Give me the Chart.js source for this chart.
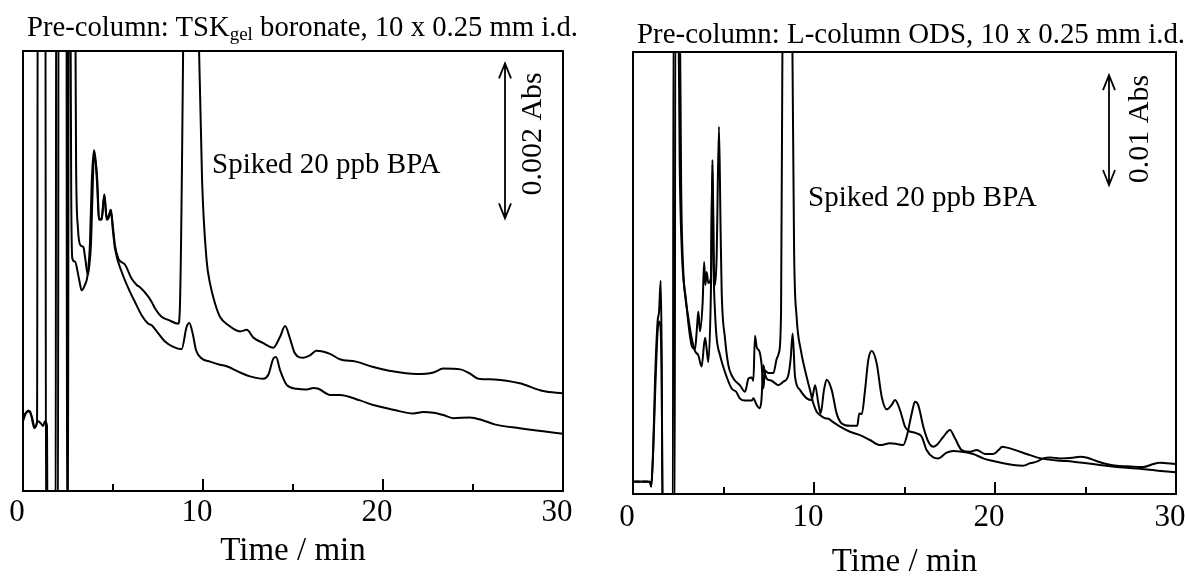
<!DOCTYPE html>
<html>
<head>
<meta charset="utf-8">
<script src="https://cdn.jsdelivr.net/npm/chart.js@4.4.0/dist/chart.umd.min.js"></script>
<style>
  html, body { margin: 0; padding: 0; background: #fff; }
  body { width: 1185px; height: 577px; overflow: hidden; position: relative; font-family: 'Liberation Serif', 'Times New Roman', serif; }
  canvas { position: absolute; top: 0; }
  .ttl { position: absolute; font-size: 28.7px; line-height: 28px; white-space: nowrap; color: #000; z-index: 2; }
  .ttl sub { font-size: 19px; vertical-align: -4px; line-height: 0; }
</style>
</head>
<body>
<canvas id="left" width="600" height="577" style="left:0"></canvas>
<canvas id="right" width="640" height="577" style="left:600px"></canvas>
<div class="ttl" style="left:27px; top:12px">Pre-column: TSK<sub>gel</sub> boronate, 10 x 0.25 mm i.d.</div>
<div class="ttl" style="left:637px; top:19px; font-size:28.9px">Pre-column: L-column ODS, 10 x 0.25 mm i.d.</div>
<script>
const xTicks = [0, 10, 20, 30];
const minorTicks = [5, 15, 25];

// TSKgel boronate pre-column, [time / min, absorbance / mAU]
const tskSpiked = [[0,0.9],[0.15,1.0],[0.3,1.04],[0.5,0.95],[0.65,0.82],[0.78,0.9],[0.83,8],[1.24,8],[1.28,-1],[1.94,-1],[1.98,8],[2.86,8],[2.95,4.2],[3.05,3.4],[3.2,3.17],[3.35,3.15],[3.46,3.0],[3.6,2.79],[3.67,2.88],[3.78,3.2],[3.87,3.9],[3.94,4.31],[4.04,4.25],[4.13,4.0],[4.22,3.52],[4.37,3.5],[4.52,3.82],[4.65,3.5],[4.8,3.55],[4.88,3.63],[5.0,3.4],[5.11,3.17],[5.3,3.0],[5.67,2.92],[6.04,2.74],[6.32,2.66],[6.5,2.63],[6.96,2.51],[7.15,2.44],[7.33,2.36],[7.7,2.25],[8.07,2.21],[8.63,2.16],[8.72,2.4],[9.3,14],[9.75,6],[9.95,4.0],[10.2,2.98],[10.39,2.68],[10.67,2.42],[10.94,2.25],[11.41,2.14],[12.06,2.06],[12.43,2.08],[12.8,1.98],[13.35,1.91],[13.9,1.85],[14.28,1.99],[14.56,2.13],[14.83,1.97],[15.1,1.78],[15.57,1.72],[15.94,1.75],[16.3,1.81],[17.06,1.77],[17.6,1.7],[18.5,1.67],[19.46,1.6],[20.4,1.55],[21.87,1.51],[22.8,1.53],[23.35,1.58],[24.3,1.57],[24.8,1.52],[25.3,1.45],[26.2,1.44],[27.6,1.39],[28.9,1.29],[30,1.26]];
const tskBlank = [[0,0.95],[0.2,1.02],[0.39,1.03],[0.63,0.81],[0.85,0.9],[1.0,0.87],[1.12,0.84],[1.22,0.9],[1.33,0.85],[1.37,-1],[1.81,-1],[1.85,8],[2.41,8],[2.45,-1],[2.5,-1],[2.54,8],[2.6,8],[2.68,3.8],[2.74,3.0],[2.89,2.96],[3.11,2.74],[3.26,2.59],[3.44,2.66],[3.59,2.79],[3.72,3.2],[3.82,4.0],[3.94,4.4],[4.02,4.3],[4.13,3.9],[4.22,3.5],[4.37,3.52],[4.52,3.83],[4.65,3.52],[4.8,3.58],[4.87,3.63],[5.0,3.35],[5.11,3.13],[5.48,2.83],[5.85,2.62],[6.22,2.44],[6.59,2.27],[6.96,2.16],[7.15,2.14],[7.43,2.06],[7.89,1.93],[8.35,1.86],[8.81,1.83],[9.09,2.12],[9.24,2.17],[9.43,2.03],[9.61,1.82],[9.93,1.71],[10.39,1.67],[10.94,1.63],[11.31,1.61],[12.06,1.53],[12.61,1.48],[13.35,1.45],[13.63,1.5],[13.91,1.71],[14.06,1.73],[14.28,1.56],[14.65,1.37],[15.2,1.32],[15.76,1.31],[16.13,1.33],[16.41,1.32],[17.06,1.24],[17.6,1.24],[18.72,1.17],[19.46,1.11],[20.57,1.05],[21.68,1.0],[22.24,1.02],[22.8,1.01],[23.35,0.98],[23.9,0.94],[24.83,0.95],[25.57,0.91],[26.2,0.86],[27.6,0.81],[28.9,0.77],[30,0.74]];

// L-column ODS pre-column
const odsSpiked = [[0,1.12],[0.3,1.15],[0.6,1.1],[0.94,1.12],[1.0,0.66],[1.12,4.45],[1.22,10.5],[1.36,15.7],[1.44,16.6],[1.53,19.4],[1.58,13.5],[1.64,-3],[2.2,-3],[2.24,45],[2.58,45],[2.66,28],[2.78,20.2],[2.92,17.8],[3.06,15.5],[3.24,13.5],[3.43,13.2],[3.52,14.8],[3.61,16.6],[3.7,14.8],[3.85,17.5],[3.93,21.1],[4.0,19.0],[4.07,20.2],[4.16,19.2],[4.3,19.6],[4.39,30.4],[4.47,20.5],[4.53,19.0],[4.62,21.5],[4.75,33.4],[4.84,24],[4.9,18.4],[5.08,14.2],[5.27,11.7],[5.45,10.8],[5.64,10.3],[5.9,9.9],[6.19,9.3],[6.38,10.5],[6.56,10.6],[6.65,10.3],[6.74,14.4],[6.83,13.4],[7.0,12.9],[7.11,11.7],[7.2,9.6],[7.3,11.2],[7.48,11.0],[7.76,11.0],[7.94,12.3],[8.07,12.9],[8.18,16.6],[8.26,42],[8.52,70],[8.8,42],[8.9,22.2],[9.04,16.1],[9.27,13.1],[9.5,11.3],[9.78,9.45],[9.96,8.25],[10.15,7.48],[10.33,7.18],[10.61,6.88],[10.8,6.85],[11.0,6.6],[11.44,6.12],[11.99,5.66],[12.54,5.36],[13.09,4.91],[13.65,4.45],[14.2,4.61],[14.57,4.55],[14.93,4.45],[15.12,5.21],[15.4,7.33],[15.58,8.39],[15.76,8.09],[16.04,6.12],[16.32,4.75],[16.59,4.3],[16.78,4.45],[17.15,5.21],[17.51,5.82],[17.79,5.06],[18.16,4.0],[18.62,3.85],[18.99,4.0],[19.45,3.64],[19.9,3.64],[20.2,4.0],[20.4,4.3],[20.6,4.24],[21.0,4.06],[21.75,3.64],[22.3,3.33],[22.86,3.15],[23.6,3.03],[24.33,2.94],[25.07,2.79],[25.8,2.64],[26.6,2.48],[27.3,2.38],[28.0,2.3],[29.0,2.12],[30,1.97]];
const odsBlank = [[0,1.12],[0.3,1.1],[0.6,1.15],[0.94,1.1],[1.0,0.7],[1.12,4.0],[1.22,9.0],[1.36,14.8],[1.45,15.7],[1.52,15.2],[1.58,11],[1.65,-3],[2.3,-3],[2.34,45],[2.5,45],[2.58,30],[2.7,22],[2.85,18.5],[3.06,16.0],[3.24,14.2],[3.43,13.0],[3.61,12.6],[3.79,11.6],[3.98,14.2],[4.07,13.2],[4.16,12.0],[4.3,18],[4.39,30.0],[4.46,20],[4.53,16.6],[4.62,14.2],[4.81,12.6],[5.08,11.1],[5.45,9.6],[5.7,9.3],[5.9,8.7],[6.19,8.5],[6.56,8.5],[6.65,8.7],[6.83,8.1],[7.0,7.8],[7.1,8.6],[7.2,11.7],[7.3,10.9],[7.39,10.5],[7.66,10.3],[8.03,9.9],[8.3,10.2],[8.58,10.8],[8.71,12.3],[8.82,14.6],[8.95,10.7],[9.23,9.45],[9.6,8.7],[9.87,8.55],[10.06,9.9],[10.24,8.25],[10.37,7.33],[10.55,9.45],[10.7,10.4],[10.98,9.45],[11.25,7.33],[11.53,6.42],[11.99,6.21],[12.39,6.21],[12.5,7.33],[12.64,7.27],[12.82,9.45],[13.0,12.2],[13.19,13.0],[13.46,11.9],[13.74,8.85],[14.02,7.7],[14.29,8.1],[14.48,8.55],[14.75,7.64],[15.03,6.12],[15.21,5.76],[15.67,5.52],[15.95,5.21],[16.22,4.0],[16.59,3.33],[16.87,3.24],[17.33,3.76],[17.7,3.91],[18.16,3.85],[18.8,3.64],[19.35,3.24],[19.9,3.0],[20.46,2.79],[21.01,2.64],[21.56,2.58],[21.93,2.79],[22.3,2.94],[22.67,3.24],[23.04,3.33],[23.59,3.24],[24.3,3.3],[24.7,3.39],[25.1,3.3],[25.6,3.0],[26.1,2.75],[26.6,2.6],[27.5,2.5],[28.2,2.45],[28.7,2.7],[29.1,2.85],[29.5,2.8],[30,2.73]];

const serif = 'Liberation Serif';

// box, inward ticks, label and absorbance scale bar
const framePlugin = {
    id: 'frame',
    afterDatasetsDraw(chart, args, o) {
        const { ctx, chartArea: a, scales: { x, y } } = chart;
        ctx.save();
        ctx.strokeStyle = '#000';
        ctx.fillStyle = '#000';
        ctx.lineWidth = 2;
        ctx.strokeRect(a.left, a.top, a.right - a.left, a.bottom - a.top);
        const tick = (v, len) => {
            const px = Math.round(x.getPixelForValue(v));
            ctx.beginPath();
            ctx.moveTo(px, a.bottom);
            ctx.lineTo(px, a.bottom - len);
            ctx.stroke();
        };
        xTicks.forEach(v => tick(v, 12));
        minorTicks.forEach(v => tick(v, 7));

        ctx.font = `29px "${serif}"`;
        ctx.textBaseline = 'alphabetic';
        ctx.textAlign = 'left';
        ctx.fillText(o.label, x.getPixelForValue(o.labelAt[0]), y.getPixelForValue(o.labelAt[1]));

        // double headed arrow
        const bx = Math.round(x.getPixelForValue(o.barAt));
        const yTop = y.getPixelForValue(o.barFrom + o.barSize);
        const yBot = y.getPixelForValue(o.barFrom);
        ctx.lineWidth = 1.8;
        ctx.beginPath();
        ctx.moveTo(bx, yTop); ctx.lineTo(bx, yBot);
        ctx.moveTo(bx - 6, yTop + 15); ctx.lineTo(bx, yTop); ctx.lineTo(bx + 6, yTop + 15);
        ctx.moveTo(bx - 6, yBot - 15); ctx.lineTo(bx, yBot); ctx.lineTo(bx + 6, yBot - 15);
        ctx.stroke();

        ctx.font = `30px "${serif}"`;
        ctx.translate(x.getPixelForValue(o.unitAt[0]), y.getPixelForValue(o.unitAt[1]));
        ctx.rotate(-Math.PI / 2);
        ctx.textAlign = 'center';
        ctx.textBaseline = 'middle';
        ctx.fillText(o.unit, 0, 0);
        ctx.restore();
    }
};

function makeChart(id, spiked, blank, yMax, pad, axisH, tickPad, titlePad, notes) {
    const line = d => ({
        data: d.map(([t, a]) => ({ x: t, y: a })),
        borderColor: '#000',
        borderWidth: 2,
        pointRadius: 0,
        cubicInterpolationMode: 'monotone',
        fill: false
    });
    return new Chart(document.getElementById(id), {
        type: 'line',
        data: { datasets: [line(spiked), line(blank)] },
        options: {
            responsive: false,
            animation: false,
            devicePixelRatio: 1,
            layout: { padding: pad },
            plugins: { legend: { display: false }, tooltip: { enabled: false }, frame: notes },
            scales: {
                x: {
                    type: 'linear', min: 0, max: 30,
                    afterBuildTicks: s => { s.ticks = xTicks.map(v => ({ value: v })); },
                    afterFit: s => { s.height = axisH; },
                    grid: { display: false, drawTicks: false },
                    border: { display: false },
                    ticks: { font: { family: serif, size: 31 }, color: '#000', padding: tickPad, labelOffset: -6, maxRotation: 0, autoSkip: false },
                    title: { display: true, text: 'Time / min', color: '#000', font: { family: serif, size: 33 }, padding: { top: 0, bottom: titlePad } }
                },
                y: { display: false, min: 0, max: yMax }
            }
        },
        plugins: [framePlugin]
    });
}

makeChart('left', tskSpiked, tskBlank, 5.68, { left: 23, top: 51, right: 37, bottom: 0 }, 86, 3, 6, {
    label: 'Spiked 20 ppb BPA', labelAt: [10.5, 4.10],
    barAt: 26.8, barFrom: 3.52, barSize: 2, unit: '0.002 Abs', unitAt: [28.33, 4.61]
});
makeChart('right', odsSpiked, odsBlank, 40.2, { left: 33, top: 52, right: 64, bottom: 0 }, 83, 5, -5, {
    label: 'Spiked 20 ppb BPA', labelAt: [9.67, 26.2],
    barAt: 26.3, barFrom: 28.1, barSize: 10, unit: '0.01 Abs', unitAt: [28.0, 33.2]
});
</script>
</body>
</html>
